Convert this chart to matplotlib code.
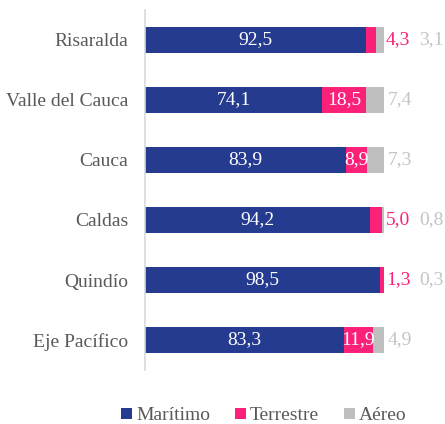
import matplotlib
matplotlib.use("Agg")
import matplotlib.pyplot as plt
import numpy as np

categories = ["Risaralda", "Valle del Cauca", "Cauca", "Caldas", "Quindío", "Eje Pacífico"]
maritimo = [92.5, 74.1, 83.9, 94.2, 98.5, 83.3]
terrestre = [4.3, 18.5, 8.9, 5.0, 1.3, 11.9]
aereo = [3.1, 7.4, 7.3, 0.8, 0.3, 4.9]
series_names = ["Marítimo", "Terrestre", "Aéreo"]

c_blue = "#253b8f"
c_pink = "#fb2179"
c_gray = "#bfbfbf"
c_lab_gray = "#c4c4c4"
c_text = "#595959"

plt.rcParams['font.family'] = ['Liberation Serif', 'DejaVu Serif']

fig = plt.figure(figsize=(4.45, 4.24), dpi=100)
ax = fig.add_axes([145/445, 1 - 370/424, (384-145)/445, 360/424])

y = np.arange(len(categories))
h = 0.42
ax.barh(y, maritimo, height=h, color=c_blue, label=series_names[0])
ax.barh(y, terrestre, left=maritimo, height=h, color=c_pink, label=series_names[1])
left2 = [m + t for m, t in zip(maritimo, terrestre)]
ax.barh(y, aereo, left=left2, height=h, color=c_gray, label=series_names[2])

ax.set_xlim(0, 100)
ax.set_ylim(len(categories) - 0.5, -0.5)
ax.set_yticks(y)
ax.set_yticklabels(categories, fontsize=14, color=c_text)
ax.tick_params(axis='y', length=0, pad=12)
ax.set_xticks([])
for s in ["top", "right", "bottom"]:
    ax.spines[s].set_visible(False)
ax.spines["left"].set_color("#d9d9d9")
ax.spines["left"].set_linewidth(1.2)

def fmt(v):
    return f"{v:.1f}".replace(".", ",")

fs = 14
for i in range(len(categories)):
    ax.text(maritimo[i] / 2, y[i], fmt(maritimo[i]), ha="center", va="center",
            color="white", fontsize=fs)
    end = maritimo[i] + terrestre[i] + aereo[i]
    if terrestre[i] >= 8:
        ax.text(maritimo[i] + terrestre[i] / 2, y[i], fmt(terrestre[i]), ha="center",
                va="center", color="white", fontsize=fs)
        ax.text(end + 1.6, y[i], fmt(aereo[i]), ha="left", va="center",
                color=c_lab_gray, fontsize=fs, clip_on=False)
    else:
        ax.text(end + 0.8, y[i], fmt(terrestre[i]), ha="left", va="center",
                color=c_pink, fontsize=fs, clip_on=False)
        ax.text(end + 14.6, y[i], fmt(aereo[i]), ha="left", va="center",
                color=c_lab_gray, fontsize=fs, clip_on=False)

leg = fig.legend(loc="center", bbox_to_anchor=(264/445, 1 - 416/424), ncol=3,
                 frameon=False, fontsize=14, handlelength=0.55, handleheight=0.55,
                 handletextpad=0.2, columnspacing=1.3)
for t in leg.get_texts():
    t.set_color(c_text)

fig.savefig("out.png", dpi=100)
